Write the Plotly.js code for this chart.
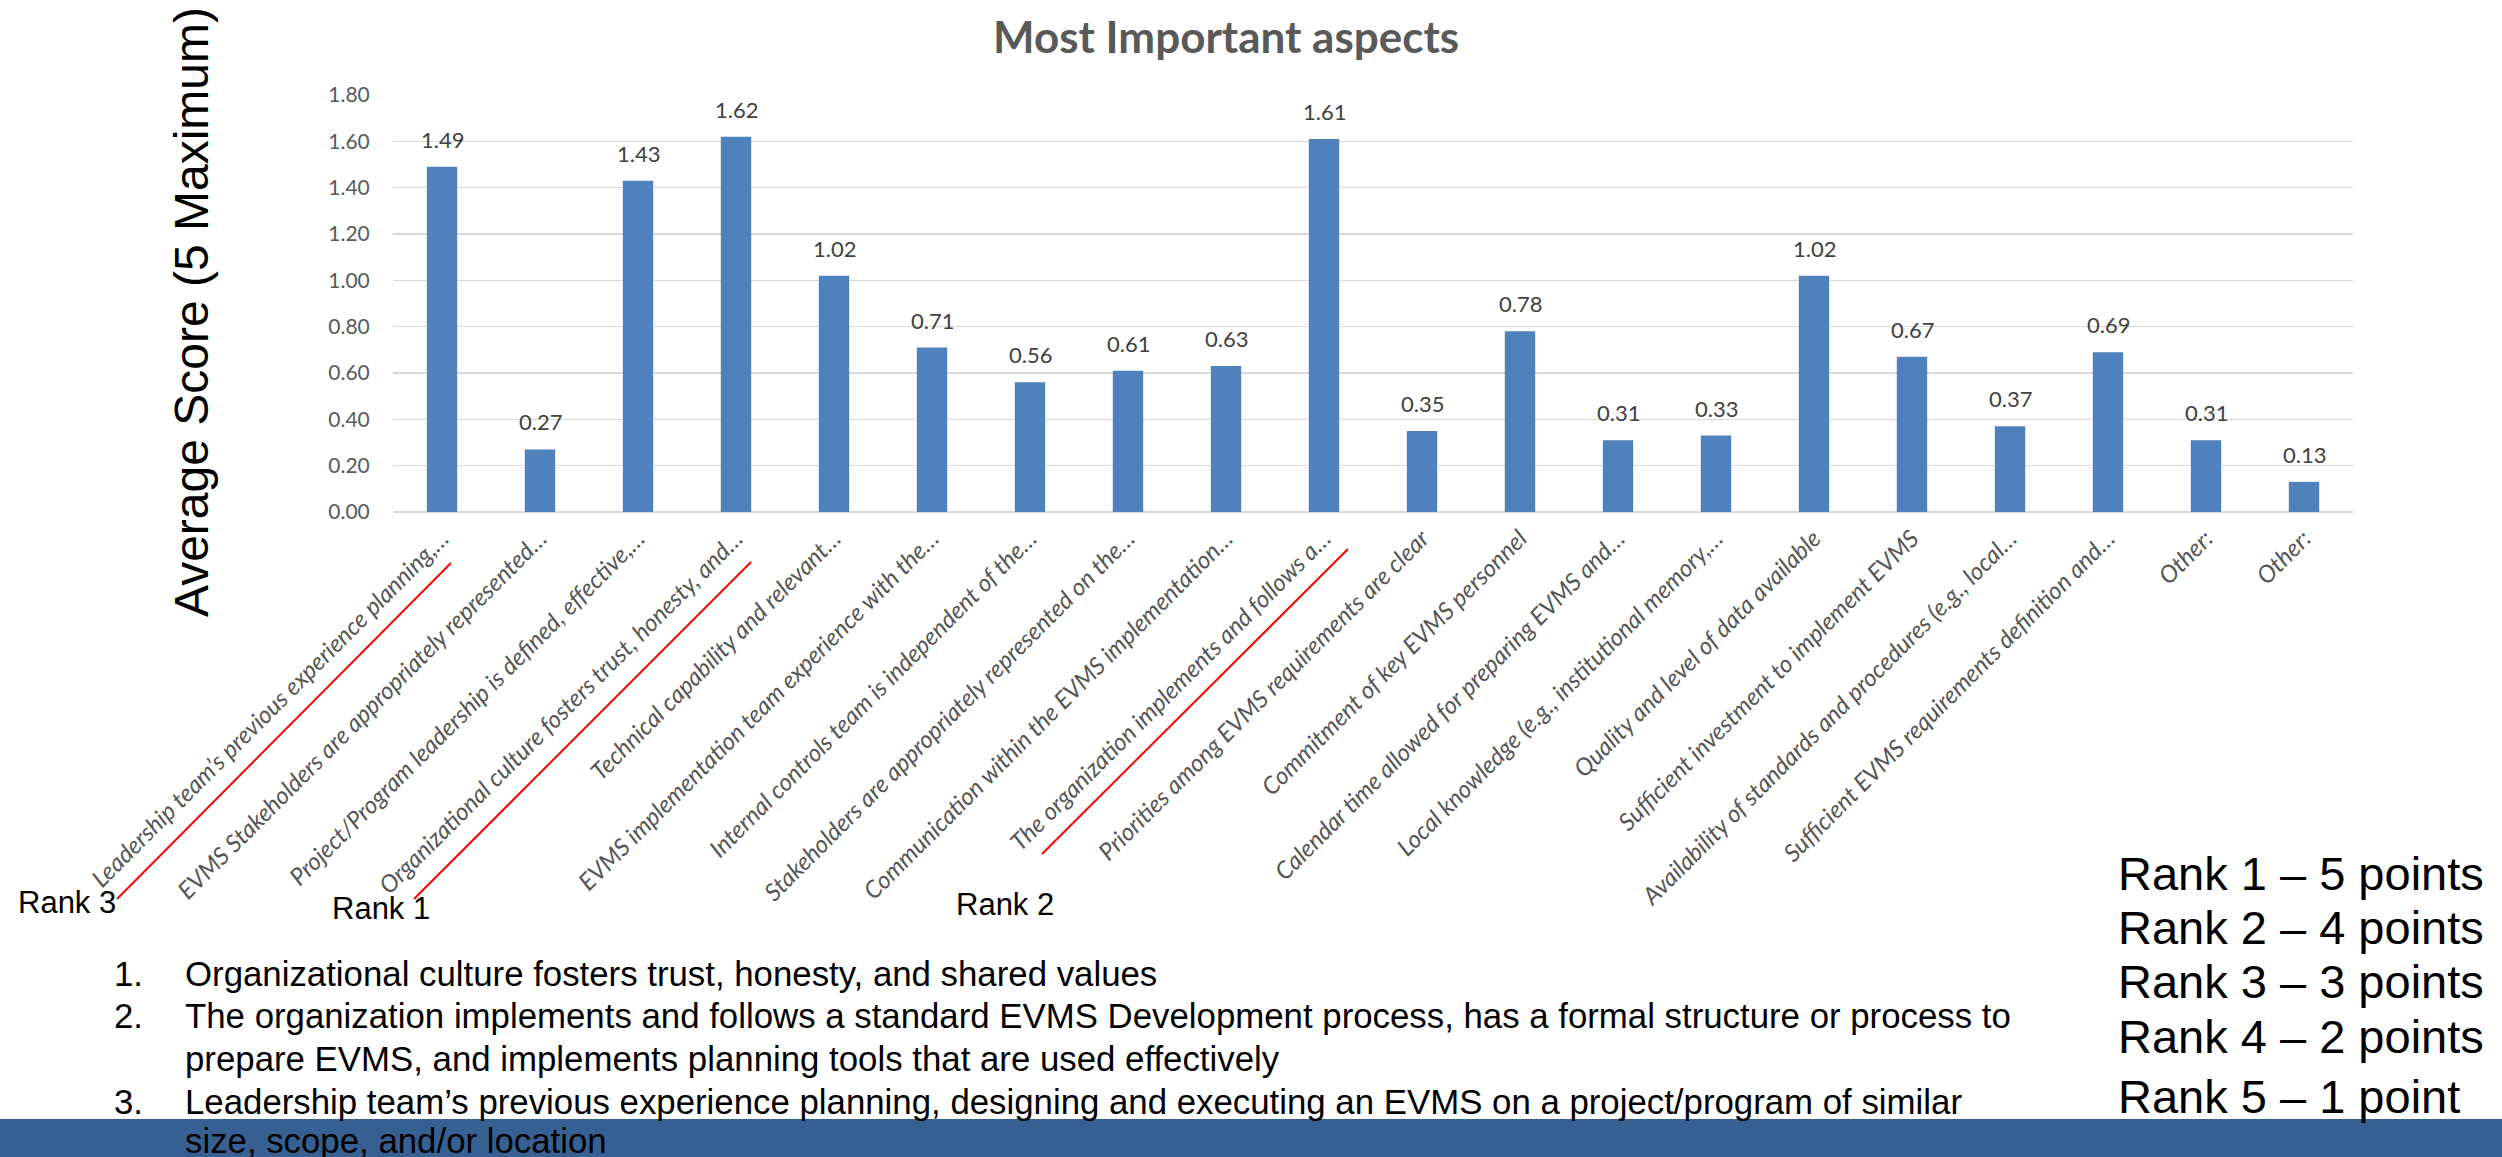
<!DOCTYPE html>
<html>
<head>
<meta charset="utf-8">
<script src="https://cdn.plot.ly/plotly-3.0.1.min.js"></script>
<style>
  html, body { margin: 0; padding: 0; background: #ffffff; overflow: hidden; }
  #chart { width: 2502px; height: 1157px; }
</style>
</head>
<body>
<div id="chart"></div>
<script>
// Survey aspects (labels truncated as shown on the axis)
const aspects = [
  "Leadership team\u2019s previous experience planning,\u2026",
  "EVMS Stakeholders are appropriately represented\u2026",
  "Project/Program leadership is defined, effective,\u2026",
  "Organizational culture fosters trust, honesty, and\u2026",
  "Technical capability and relevant\u2026",
  "EVMS implementation team experience with the\u2026",
  "Internal controls team is independent of the\u2026",
  "Stakeholders are appropriately represented on the\u2026",
  "Communication within the EVMS implementation\u2026",
  "The organization implements and follows a\u2026",
  "Priorities among EVMS requirements are clear",
  "Commitment of key EVMS personnel",
  "Calendar time allowed for preparing EVMS and\u2026",
  "Local knowledge (e.g., institutional memory,\u2026",
  "Quality and level of data available",
  "Sufficient investment to implement EVMS",
  "Availability of standards and procedures (e.g., local\u2026",
  "Sufficient EVMS requirements definition and\u2026",
  "Other:",
  "Other:"
];

// Average score per aspect (5 maximum)
const scores = [1.49, 0.27, 1.43, 1.62, 1.02, 0.71, 0.56, 0.61, 0.63, 1.61,
                0.35, 0.78, 0.31, 0.33, 1.02, 0.67, 0.37, 0.69, 0.31, 0.13];

// Y axis ticks
const yTicks = [0, 0.2, 0.4, 0.6, 0.8, 1.0, 1.2, 1.4, 1.6, 1.8];

// Top three aspects, written out in full
const topAspectLines = [
  ["1.", "Organizational culture fosters trust, honesty, and shared values"],
  ["2.", "The organization implements and follows a standard EVMS Development process, has a formal structure or process to"],
  ["",   "prepare EVMS, and implements planning tools that are used effectively"],
  ["3.", "Leadership team\u2019s previous experience planning, designing and executing an EVMS on a project/program of similar"],
  ["",   "size, scope, and/or location"]
];

// Rank tags under the highlighted aspects
const rankTags = ["Rank 3", "Rank 1", "Rank 2"];

// Scoring scheme
const pointScale = [
  "Rank 1 \u2013 5 points",
  "Rank 2 \u2013 4 points",
  "Rank 3 \u2013 3 points",
  "Rank 4 \u2013 2 points",
  "Rank 5 \u2013 1 point"
];

// ---- page geometry (pixels) ----
const W = 2502, H = 1157;
const L = 393, R = 2353, T = 95, B = 512;
const px = v => (v - L) / (R - L);
const py = v => (B - v) / (B - T);

const calibri = "Lato, 'Open Sans', sans-serif";
const arial = "'Liberation Sans', Arial, sans-serif";

const idx = aspects.map((_, i) => i);

const bars = {
  type: "bar",
  x: idx,
  y: scores,
  marker: { color: "#4f81bd" },
  hoverinfo: "skip"
};

const annotations = [];

// chart title
annotations.push({
  text: "Most Important aspects", xref: "paper", yref: "paper",
  x: px(1226), y: py(36), xanchor: "center", yanchor: "middle", showarrow: false,
  font: { family: calibri, size: 44, weight: 700, color: "#595959" }
});

// vertical axis title
annotations.push({
  text: "Average Score (5 Maximum)", xref: "paper", yref: "paper",
  x: px(191), y: py(312), xanchor: "center", yanchor: "middle", textangle: -90,
  showarrow: false, font: { family: arial, size: 48, color: "#000000" }
});

// value labels above each bar
scores.forEach((v, i) => {
  annotations.push({
    text: v.toFixed(2), xref: "x", yref: "y", x: i, y: v,
    xanchor: "center", yanchor: "bottom", yshift: 12, showarrow: false,
    font: { family: calibri, size: 22, color: "#404040" }
  });
});

// rank tags
const tagPos = [[16, 902], [330, 909], [954, 904]];
rankTags.forEach((t, k) => {
  annotations.push({
    text: t, xref: "paper", yref: "paper", x: px(tagPos[k][0]), y: py(tagPos[k][1]),
    xanchor: "left", yanchor: "middle", showarrow: false,
    font: { family: arial, size: 31, color: "#000000" }
  });
});

// numbered list of the top aspects
const listY = [973, 1015, 1058, 1101, 1140];
topAspectLines.forEach((ln, k) => {
  if (ln[0]) {
    annotations.push({
      text: ln[0], xref: "paper", yref: "paper", x: px(112), y: py(listY[k]),
      xanchor: "left", yanchor: "middle", showarrow: false,
      font: { family: arial, size: 34.8, color: "#000000" }
    });
  }
  annotations.push({
    text: ln[1], xref: "paper", yref: "paper", x: px(183), y: py(listY[k]),
    xanchor: "left", yanchor: "middle", showarrow: false,
    font: { family: arial, size: 34.8, color: "#000000" }
  });
});

// scoring scheme
const pointY = [873, 927, 981, 1036, 1096];
pointScale.forEach((t, k) => {
  annotations.push({
    text: t, xref: "paper", yref: "paper", x: px(2116), y: py(pointY[k]),
    xanchor: "left", yanchor: "middle", showarrow: false,
    font: { family: arial, size: 47, color: "#000000" }
  });
});

const shapes = [];

// footer band
shapes.push({
  type: "rect", xref: "paper", yref: "paper", layer: "below",
  x0: px(0), x1: px(W), y0: py(1119), y1: py(H + 2),
  fillcolor: "#376092", line: { width: 0 }
});

// red underlines beneath the three highlighted aspect labels
const underlines = [
  [117, 899, 451, 563],
  [414, 899, 751, 562],
  [1042, 854, 1348, 549]
];
underlines.forEach(u => {
  shapes.push({
    type: "line", xref: "paper", yref: "paper",
    x0: px(u[0]), y0: py(u[1]), x1: px(u[2]), y1: py(u[3]),
    line: { color: "#ff0000", width: 2 }
  });
});

const layout = {
  width: W, height: H, autosize: false,
  margin: { l: L, r: W - R, t: T, b: H - B, pad: 0 },
  paper_bgcolor: "#ffffff", plot_bgcolor: "#ffffff",
  showlegend: false,
  bargap: 0.69,
  xaxis: {
    tickmode: "array", tickvals: idx, ticktext: aspects,
    range: [-0.5, aspects.length - 0.5],
    tickangle: -45,
    tickfont: { family: calibri, size: 24, style: "italic", color: "#555555" },
    ticks: "outside", ticklen: 2, tickcolor: "rgba(0,0,0,0)",
    showgrid: false, zeroline: false, showline: false, fixedrange: true
  },
  yaxis: {
    range: [0, 1.8], tickmode: "array", tickvals: yTicks,
    ticktext: yTicks.map(v => v.toFixed(2)),
    tickfont: { family: calibri, size: 21, color: "#595959" },
    ticks: "outside", ticklen: 18, tickcolor: "rgba(0,0,0,0)",
    showgrid: true, gridcolor: "#d9d9d9", gridwidth: 1.5,
    zeroline: true, zerolinecolor: "#d9d9d9", zerolinewidth: 2,
    showline: false, fixedrange: true
  },
  annotations: annotations,
  shapes: shapes
};

Plotly.newPlot("chart", [bars], layout, { displayModeBar: false, staticPlot: true });
</script>
</body>
</html>
